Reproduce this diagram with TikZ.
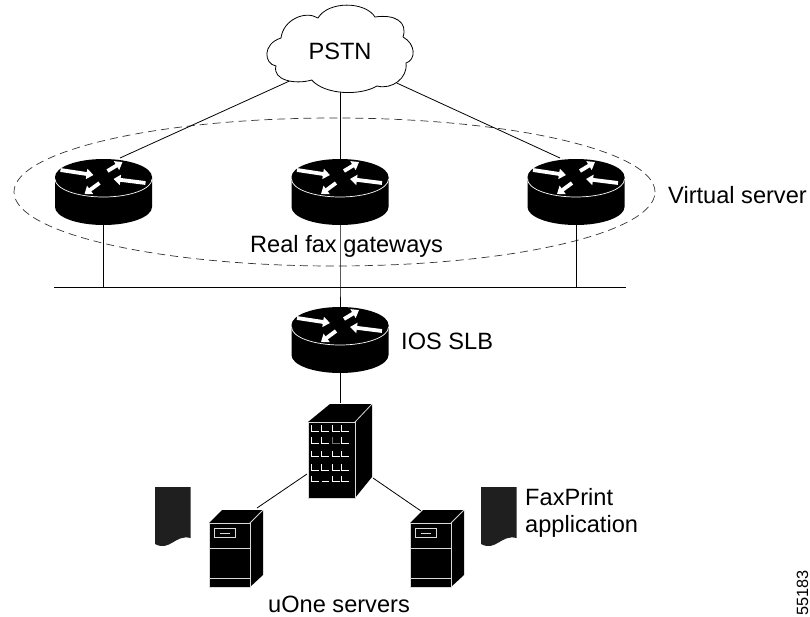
\documentclass[tikz,border=0pt]{standalone}
\usepackage{fontspec}
\setmainfont{Liberation Sans}
\usetikzlibrary{arrows.meta}

\tikzset{
  label text/.style={inner sep=0pt, font=\fontsize{23.6}{26}\selectfont},
  tag text/.style={inner sep=0pt, rotate=90, font=\fontsize{16.3}{18}\selectfont},
  link/.style={black, line width=0.8pt},
  edge white/.style={white!85!black, line width=0.8pt},
  flow/.style={white, line width=3.8pt, -{Triangle[length=7pt,width=10pt]}},
  router/.pic={
    \fill[black] (-48.5,0)--(-48.5,30) arc[start angle=180, end angle=360, x radius=48.5pt, y radius=18pt]
      --(48.5,0) arc[start angle=0, end angle=180, x radius=48.5pt, y radius=18pt]--cycle;
    \draw[white, line width=0.7pt] (-48.5,2) arc[start angle=180, end angle=360, x radius=48.5pt, y radius=18pt];
    \draw[flow] (-43,-7)--(-10,-2);
    \draw[flow] (4,-6)--(19,-15);
    \draw[flow] (42,6)--(10,2);
    \draw[flow] (-4,6)--(-19,17);
    \coordinate (-top) at (0,-18);
    \coordinate (-bottom) at (0,47);
  },
  server/.pic={
    \fill[black] (0,0)--++(13,-13)--++(41,0)--++(0,65)--++(-13,12)--++(-41,0)--cycle;
    \draw[edge white] (0,0) rectangle (41,64);
    \draw[edge white] (41,0)--(54,-13);
    \draw[edge white] (0,25)--(41,25);
    \draw[edge white] (0,55)--(41,55);
    \draw[edge white] (5,5) rectangle (26,14);
    \draw[edge white] (11,10)--(21,10);
  },
  document/.pic={
    \fill[black!88] (0,0)--++(35.5,0)--++(0,51) .. controls (20,47) and (15,65) .. (0,57)--cycle;
  },
}

\begin{document}
\begin{tikzpicture}[x=1pt,y=-1pt]

\useasboundingbox (0,0) rectangle (810,616);

% named ends of the connectors
\coordinate (pstn-left) at (291.7,80);
\coordinate (pstn-mid) at (340,91);
\coordinate (pstn-right) at (396.7,83);
\coordinate (gw-left-in) at (120,158);
\coordinate (gw-right-in) at (560,158);
\coordinate (bus-left) at (54,287);
\coordinate (bus-right) at (626,287);
\coordinate (bus-a) at (103.5,287);
\coordinate (bus-b) at (340,287);
\coordinate (bus-c) at (576,287);
\coordinate (farm-top) at (340,403);
\coordinate (farm-left) at (307,474);
\coordinate (farm-right) at (373,478);
\coordinate (srv-left-in) at (257,508);
\coordinate (srv-right-in) at (421,511);

% virtual server ring
\draw[black!80, line width=0.7pt, dash pattern=on 8pt off 5pt] (334.5,192) ellipse [x radius=320.5pt, y radius=74pt];

% routers
\pic (gwa) at (103.5,177) {router};
\pic (gwb) at (340,177) {router};
\pic (gwc) at (576,177) {router};
\pic (slb) at (340,325) {router};

% connectors
\draw[link] (pstn-left)--(gw-left-in);
\draw[link] (pstn-mid)--(gwb-top);
\draw[link] (pstn-right)--(gw-right-in);
\draw[link] (bus-left)--(bus-right);
\draw[link] (gwa-bottom)--(bus-a);
\draw[link] (gwb-bottom)--(bus-b)--(slb-top);
\draw[link] (gwc-bottom)--(bus-c);
\draw[link] (slb-bottom)--(farm-top);
\draw[link] (farm-left)--(srv-left-in);
\draw[link] (farm-right)--(srv-right-in);

% PSTN cloud
\draw[black, line width=0.8pt, fill=white] (311.7,80) .. controls (295,85) and (272,80) .. (276,66)
  .. controls (264,64) and (262,44) .. (281,38)
  .. controls (283,20) and (305,10) .. (318,18)
  .. controls (328,1) and (365,1) .. (375,17)
  .. controls (395,14) and (408,22) .. (403,37)
  .. controls (416,44) and (416,60) .. (406,63)
  .. controls (408,78) and (392,90) .. (377,86)
  .. controls (360,96) and (325,95) .. (311.7,80);

% server farm building
\fill[black] (308,422)--(330,404)--(372,404)--(372,477)--(355,498)--(308,498)--cycle;
\draw[edge white] (308,422) rectangle (355,498);
\draw[edge white] (355,422)--(372,404);
\foreach \yy in {431,443.3,456.7,470}{
  \foreach \xx in {311.7,321.7,332.7,341.7}{
    \draw[white, line width=0.8pt] (\xx,\yy-6)--++(0,6)--++(7,0);
  }
}
\draw[black!55, line width=0.8pt] (332.7,437.3)--++(0,6)--++(7,0);
\foreach \xx in {311.7,332.7,341.7}{
  \draw[white, line width=0.8pt] (\xx,475.7)--++(0,6)--++(7,0);
}
\draw[white, line width=0.8pt] (321.7,481.7)--++(7,0);

% uOne servers and application sheets
\pic at (209,523) {server};
\pic at (410,523) {server};
\pic at (155,487) {document};
\pic at (481,487) {document};

% labels
\node[label text, anchor=base] (pstn) at (340,59) {PSTN};
\node[label text, anchor=base west] (virtual) at (668,203) {Virtual server};
\node[label text, anchor=base west] (real) at (250,252) {Real fax gateways};
\node[label text, anchor=base west] (ios) at (401,349) {IOS SLB};
\node[label text, anchor=base west] (faxprint) at (525,505) {FaxPrint};
\node[label text, anchor=base west] (application) at (525,532) {application};
\node[label text, anchor=base west] (uone) at (268,612) {uOne servers};
\node[tag text, anchor=base east] (tag) at (808,570) {55183};

\end{tikzpicture}
\end{document}
